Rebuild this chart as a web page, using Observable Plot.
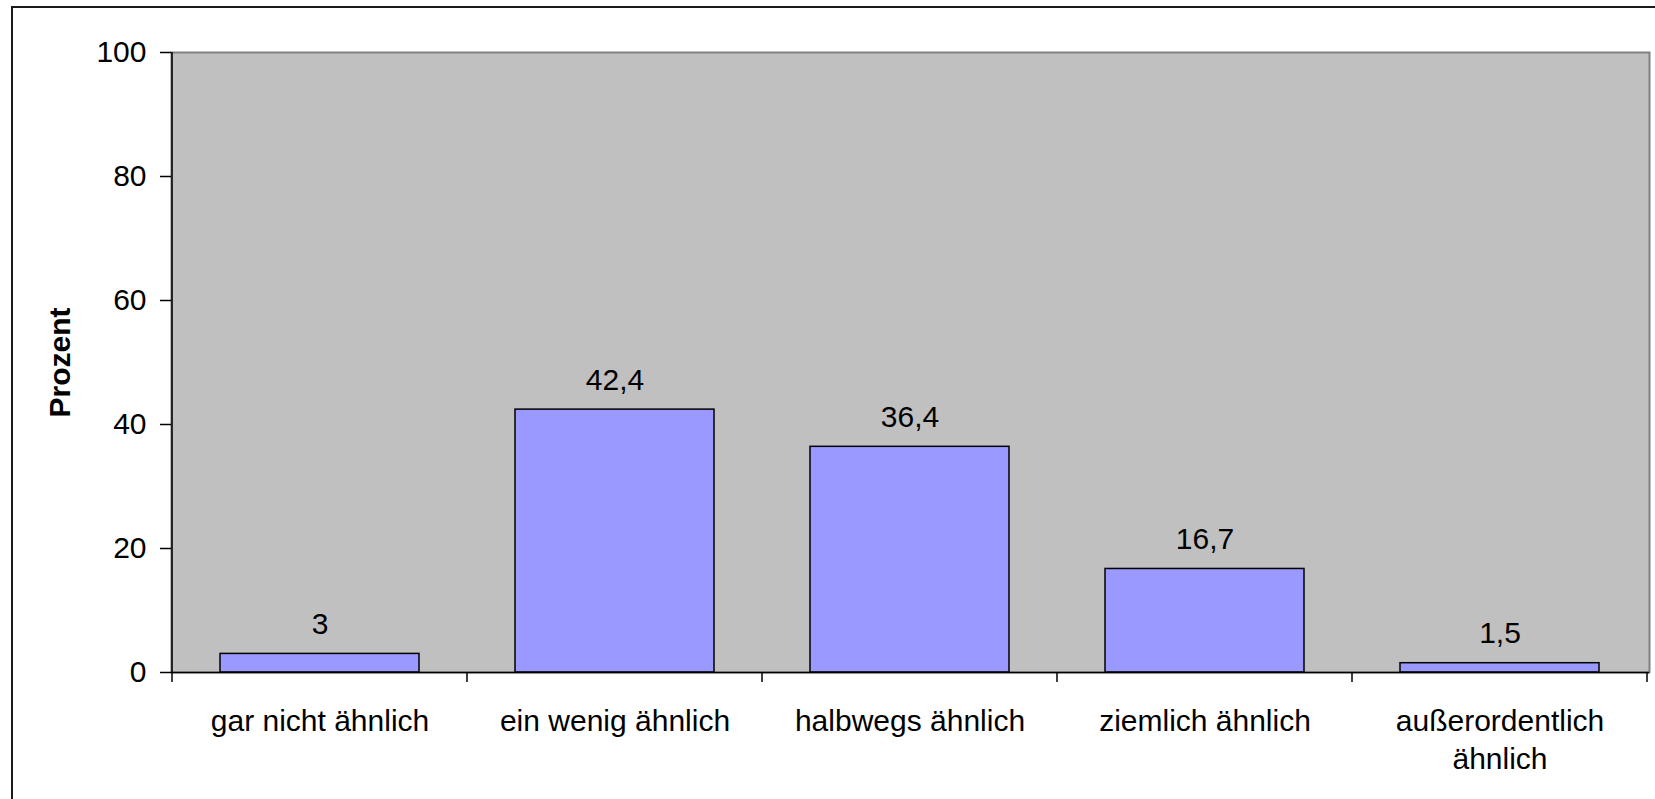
<!DOCTYPE html>
<html><head><meta charset="utf-8">
<script src="https://cdn.jsdelivr.net/npm/d3@7"></script>
<script src="https://cdn.jsdelivr.net/npm/@observablehq/plot@0.6"></script>
<style>
html,body{margin:0;padding:0;background:#fff;overflow:hidden;}
#wrap{position:relative;width:1655px;height:799px;overflow:hidden;}
#border{position:absolute;left:11px;top:6px;width:2000px;height:2000px;border:2px solid #1a1a1a;box-sizing:border-box;pointer-events:none;}
</style></head><body>
<div id="wrap"><div id="chart"></div><div id="border"></div></div>
<script>
const categories = ["gar nicht ähnlich", "ein wenig ähnlich", "halbwegs ähnlich", "ziemlich ähnlich", "außerordentlich ähnlich"];
const tickLabels = ["gar nicht ähnlich", "ein wenig ähnlich", "halbwegs ähnlich", "ziemlich ähnlich", "außerordentlich\nähnlich"];
const values = [3, 42.4, 36.4, 16.7, 1.5];
const yTicks = [0, 20, 40, 60, 80, 100];
const yTitle = "Prozent";

const data = categories.map((c, i) => ({category: c, value: values[i]}));

const boundaryMark = (index, scales, vals, dims) => {
  const x = scales.x, y = scales.y;
  const step = x.step ? x.step() : (dims.width - dims.marginLeft - dims.marginRight) / categories.length;
  const bw = x.bandwidth ? x.bandwidth() : step * 0.676;
  const pad = (step - bw) / 2;
  const last = categories[categories.length - 1];
  const bounds = categories.map(c => x(c) - pad).concat([x(last) + bw + pad]);
  const y0 = y(0);
  const g = d3.create("svg:g").attr("stroke", "black").attr("stroke-width", 1.5);
  g.selectAll("line.t").data(bounds).join("line").attr("class", "t")
    .attr("x1", d => d).attr("x2", d => d).attr("y1", y0).attr("y2", y0 + 10);
  g.append("line").attr("x1", bounds[0]).attr("x2", bounds[0]).attr("y1", y(100)).attr("y2", y0);
  return g.node();
};

const chart = Plot.plot({
  width: 1655,
  height: 799,
  marginLeft: 171,
  marginRight: 6,
  marginTop: 52,
  marginBottom: 127,
  style: {fontFamily: "'Liberation Sans', Arial, sans-serif", fontSize: "30px", background: "transparent", color: "black", overflow: "visible"},
  x: {domain: categories, paddingInner: 0.324, paddingOuter: 0.162, label: null},
  y: {domain: [0, 100], label: null},
  marks: [
    Plot.frame({fill: "#C0C0C0", stroke: "#808080", strokeWidth: 2}),
    Plot.barY(data, {x: "category", y: "value", fill: "#9999FF", stroke: "black", strokeWidth: 1.5}),
    Plot.ruleY([0], {stroke: "black", strokeWidth: 1.5}),
    boundaryMark,
    Plot.text(data, {x: "category", y: "value", text: d => String(d.value).replace(".", ","), lineAnchor: "bottom", dy: -20, fontSize: 30, fill: "black"}),
    Plot.axisY({ticks: yTicks, tickSize: 11, tickPadding: 14, fontSize: 30, label: null, strokeWidth: 1.5}),
    Plot.axisX({tickSize: 0, tickPadding: 31, fontSize: 30, lineHeight: 1.27, label: null,
      tickFormat: d => tickLabels[categories.indexOf(d)]}),
    Plot.text([yTitle], {frameAnchor: "left", textAnchor: "middle", dx: -111, rotate: -90, fontWeight: "bold", fontSize: 30, text: d => d, fill: "black"})
  ]
});
document.getElementById("chart").appendChild(chart);
</script>
</body></html>
